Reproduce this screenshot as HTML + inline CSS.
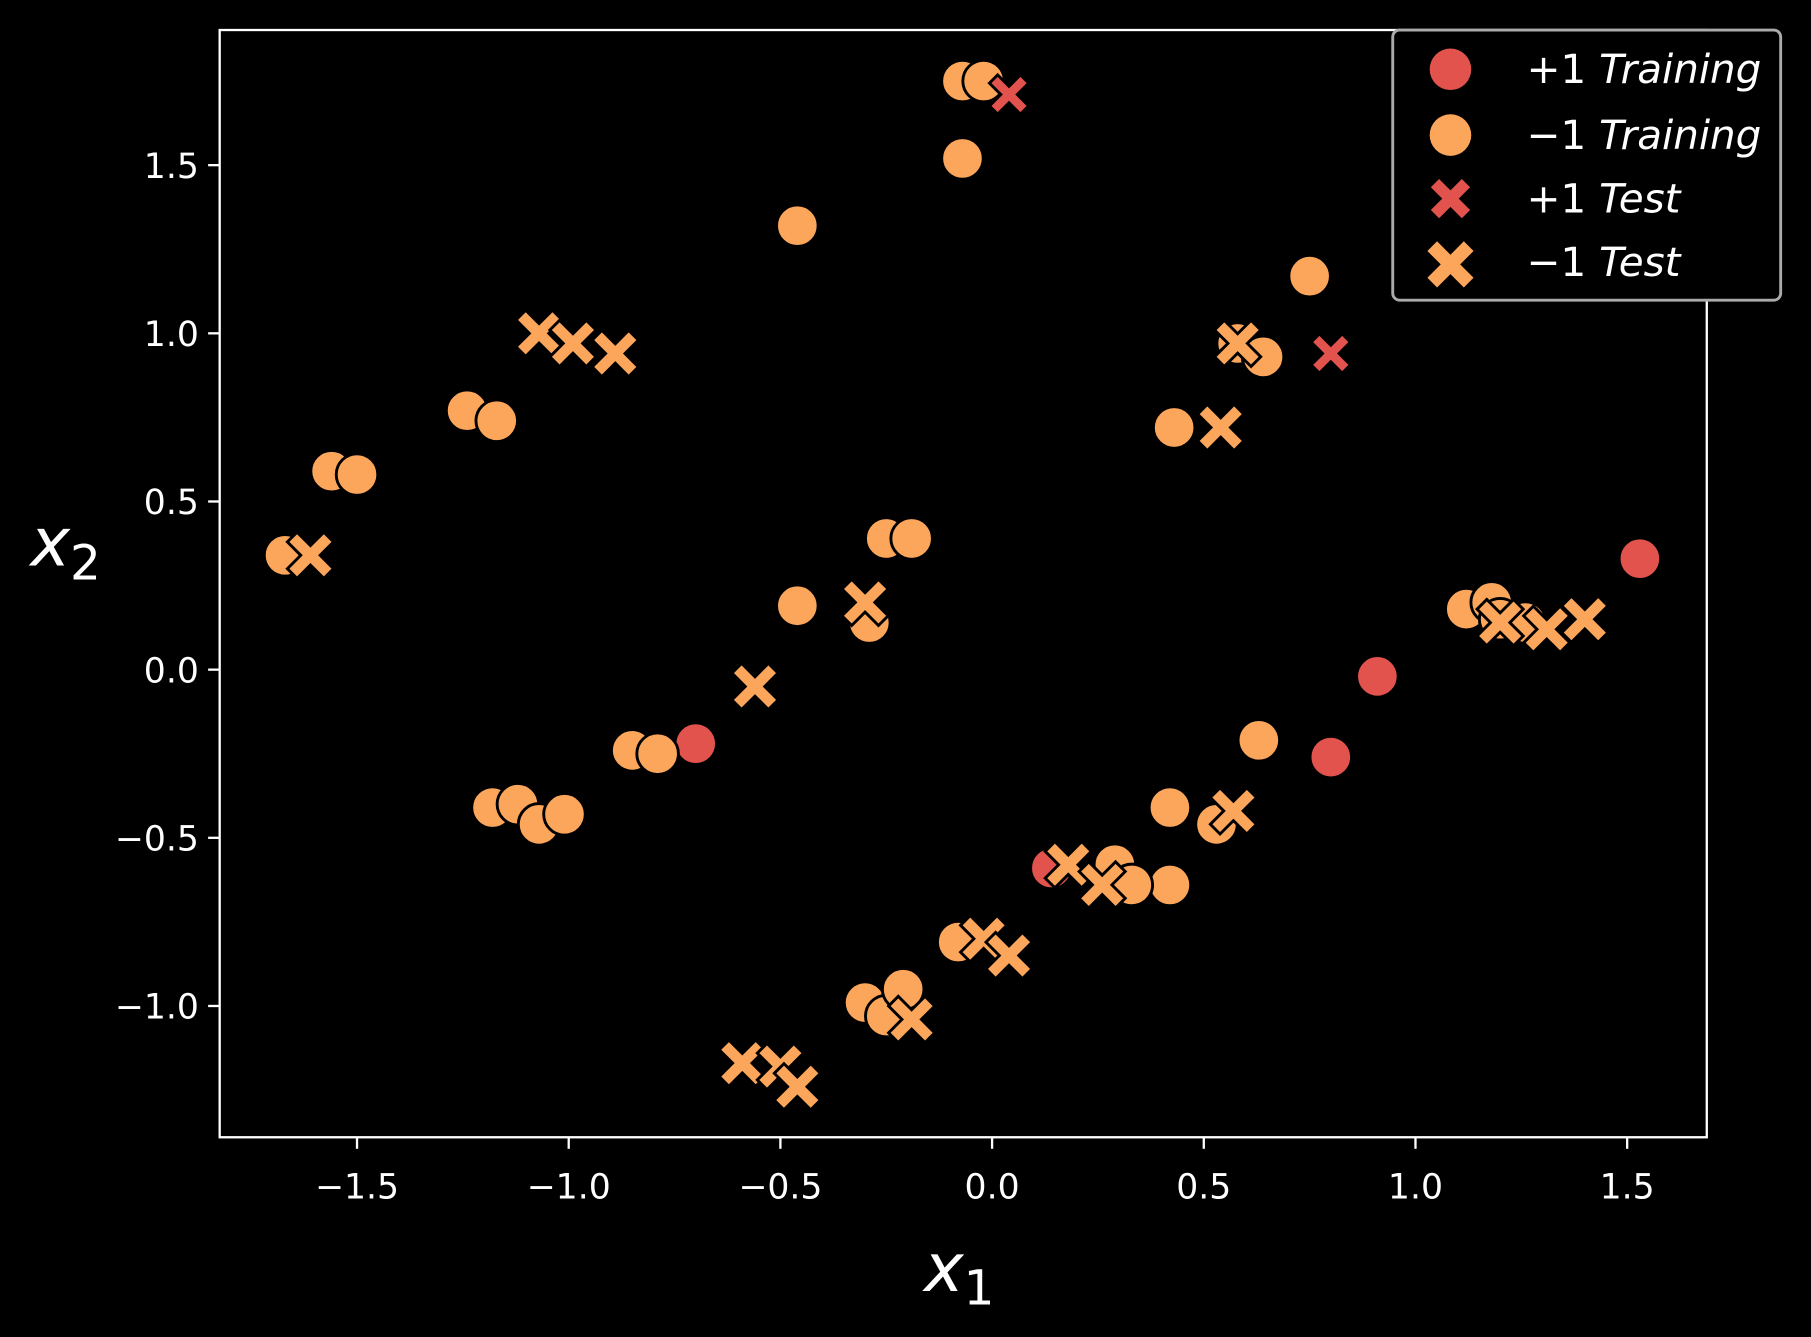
<!DOCTYPE html>
<html><head><meta charset="utf-8"><style>
html,body{margin:0;padding:0;background:#000;}
svg{display:block;}
text{font-family:"DejaVu Sans","Liberation Sans",sans-serif;fill:#fff;}
</style></head><body>
<svg id="chart" width="1811" height="1337" viewBox="0 0 1568 1158" xmlns="http://www.w3.org/2000/svg">
<rect x="0" y="0" width="1568" height="1158" fill="#000"/>
<g id="plot"></g>
<rect x="190" y="26" width="1288" height="959" fill="none" stroke="#fff" stroke-width="2"/>
<g id="xt"></g>
<g id="yt"></g>
<text x="800" y="1118" font-size="58" font-style="italic">x<tspan font-size="42" font-style="normal" dy="12">1</tspan></text>
<text x="26" y="490" font-size="58" font-style="italic">x<tspan font-size="42" font-style="normal" dy="12">2</tspan></text>
<g>
<rect x="1206" y="26" width="336" height="234" rx="6" fill="#000" stroke="#aaa" stroke-width="2.5"/>
<g id="leg"></g>
</g>
</svg>
<script>
const xTicks=[-1.5,-1.0,-0.5,0.0,0.5,1.0,1.5];
const yTicks=[-1.0,-0.5,0.0,0.5,1.0,1.5];
const negTrainX=[-0.07,-0.02,-0.07,-0.46,0.75,0.58,0.64,0.43,-1.24,-1.17,-1.56,-1.50,-1.67,-0.25,-0.19,-0.46,-0.29,-0.85,-0.79,-1.18,-1.12,-1.07,-1.01,0.63,0.42,0.53,0.42,0.29,0.33,-0.08,-0.30,-0.25,-0.21,1.12,1.18,1.20,1.26];
const negTrainY=[1.75,1.75,1.52,1.32,1.17,0.97,0.93,0.72,0.77,0.74,0.59,0.58,0.34,0.39,0.39,0.19,0.14,-0.24,-0.25,-0.41,-0.40,-0.46,-0.43,-0.21,-0.41,-0.46,-0.64,-0.58,-0.64,-0.81,-0.99,-1.03,-0.95,0.18,0.20,0.15,0.14];
const posTrainX=[-0.70,1.53,0.91,0.80,0.14];
const posTrainY=[-0.22,0.33,-0.02,-0.26,-0.59];
const posTestX=[0.04,0.80];
const posTestY=[1.71,0.94];
const negTestX=[-1.07,-0.99,-0.89,-1.61,0.58,0.54,-0.30,-0.56,0.57,0.18,0.26,-0.02,0.04,-0.19,-0.59,-0.50,-0.46,1.20,1.31,1.40];
const negTestY=[1.00,0.97,0.94,0.34,0.97,0.72,0.20,-0.05,-0.42,-0.58,-0.64,-0.80,-0.85,-1.04,-1.17,-1.18,-1.24,0.14,0.12,0.15];
const RED="#e1534c", ORG="#fca65c";
const NS="http://www.w3.org/2000/svg";
function sx(v){return 859+v*366.7;}
function sy(v){return 580-v*291.3;}
function mk(tag,attrs,parent){const e=document.createElementNS(NS,tag);for(const k in attrs)e.setAttribute(k,attrs[k]);parent.appendChild(e);return e;}
const plot=document.getElementById('plot');
function circle(cx,cy,col,par,name){const c=mk('circle',{cx:cx,cy:cy,r:18,fill:col,stroke:'#000','stroke-width':2.5},par);

return c;}
function xmark(cx,cy,col,par,name,s){s=s||20;const w=s*0.42;
const d=`M${cx-s},${cy-s+w}L${cx-s+w},${cy-s}L${cx},${cy-w}L${cx+s-w},${cy-s}L${cx+s},${cy-s+w}L${cx+w},${cy}L${cx+s},${cy+s-w}L${cx+s-w},${cy+s}L${cx},${cy+w}L${cx-s+w},${cy+s}L${cx-s},${cy+s-w}L${cx-w},${cy}Z`;
const p=mk('path',{d:d,fill:col,stroke:'#000','stroke-width':2.5,'stroke-linejoin':'miter'},par);

return p;}
posTrainX.forEach((v,i)=>circle(sx(v),sy(posTrainY[i]),RED,plot,'pos-train-point'));
negTrainX.forEach((v,i)=>circle(sx(v),sy(negTrainY[i]),ORG,plot,'neg-train-point'));
posTestX.forEach((v,i)=>xmark(sx(v),sy(posTestY[i]),RED,plot,'pos-test-point',17));
negTestX.forEach((v,i)=>xmark(sx(v),sy(negTestY[i]),ORG,plot,'neg-test-point',20));
const xt=document.getElementById('xt'), yt=document.getElementById('yt');
function lab(v){return (v<0?'\u2212':'')+Math.abs(v).toFixed(1);}
xTicks.forEach(v=>{const l=mk('line',{x1:sx(v),x2:sx(v),y1:985,y2:995,stroke:'#fff','stroke-width':2},xt);


const t=mk('text',{x:sx(v),y:1038,'font-size':30,'text-anchor':'middle'},xt);t.textContent=lab(v);

});
yTicks.forEach(v=>{const l=mk('line',{x1:180,x2:190,y1:sy(v),y2:sy(v),stroke:'#fff','stroke-width':2},yt);


const t=mk('text',{x:172,y:sy(v)+11,'font-size':30,'text-anchor':'end'},yt);t.textContent=lab(v);

});
const leg=document.getElementById('leg');
const legSign=['+1','\u22121','+1','\u22121'];
const legWord=['Training','Training','Test','Test'];
const legY=[60,117,172,227];
circle(1256,60,RED,leg,'legend-marker-pos-train').setAttribute('stroke','none');
circle(1256,117,ORG,leg,'legend-marker-neg-train').setAttribute('stroke','none');
xmark(1256,172,RED,leg,'legend-marker-pos-test',17).setAttribute('stroke','none');
xmark(1256,229,ORG,leg,'legend-marker-neg-test',20).setAttribute('stroke','none');
legY.forEach((y,i)=>{const t=mk('text',{x:1322,y:y+12,'font-size':35},leg);


const a=mk('tspan',{},t);a.textContent=legSign[i]+' ';
const b=mk('tspan',{'font-style':'italic'},t);b.textContent=legWord[i];});
</script>
</body></html>
